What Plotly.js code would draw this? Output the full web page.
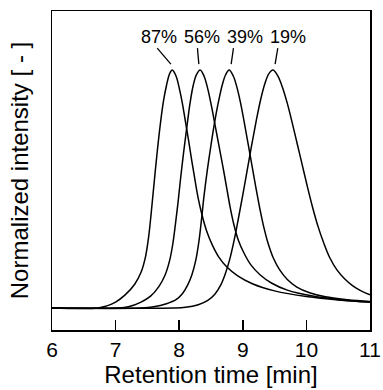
<!DOCTYPE html>
<html>
<head>
<meta charset="utf-8">
<script src="https://cdn.plot.ly/plotly-3.0.1.min.js"></script>
<style>html,body{margin:0;padding:0;background:#fff}#chart{width:383px;height:390px}</style>
</head>
<body>
<div id="chart"></div>
<script>
// Retention time [min] and normalized intensity for each sample
var time87 = [6.0, 6.72, 6.85, 7.00, 7.15, 7.30, 7.40, 7.47, 7.52, 7.56, 7.60, 7.65, 7.70, 7.75, 7.80, 7.85, 7.89,
              7.95, 8.00, 8.05, 8.10, 8.15, 8.20, 8.25, 8.30, 8.36, 8.43, 8.52, 8.62, 8.75, 8.92, 9.15, 9.50, 10.0, 10.5, 11.0];
var int87  = [0, 0, 0.008, 0.025, 0.055, 0.10, 0.15, 0.215, 0.30, 0.40, 0.51, 0.645, 0.765, 0.865, 0.935, 0.985, 1.0,
              0.975, 0.925, 0.86, 0.78, 0.70, 0.615, 0.535, 0.46, 0.39, 0.325, 0.265, 0.215, 0.172, 0.135, 0.102, 0.072, 0.048, 0.034, 0.026];

var time56 = [6.0, 7.0, 7.2, 7.40, 7.55, 7.68, 7.78, 7.85, 7.90, 7.94, 7.98, 8.02, 8.07, 8.12, 8.17, 8.22, 8.27, 8.33,
              8.39, 8.45, 8.51, 8.57, 8.63, 8.69, 8.75, 8.80, 8.86, 8.93, 9.02, 9.13, 9.27, 9.45, 9.70, 10.1, 10.55, 11.0];
var int56  = [0, 0, 0.005, 0.025, 0.05, 0.09, 0.14, 0.20, 0.27, 0.35, 0.44, 0.54, 0.655, 0.76, 0.86, 0.935, 0.98, 1.0,
              0.975, 0.92, 0.845, 0.76, 0.675, 0.59, 0.50, 0.425, 0.35, 0.285, 0.23, 0.18, 0.14, 0.105, 0.075, 0.05, 0.034, 0.024];

var time39 = [6.0, 7.40, 7.60, 7.80, 7.95, 8.05, 8.13, 8.20, 8.26, 8.31, 8.35, 8.39, 8.44, 8.50, 8.56, 8.62, 8.68, 8.73, 8.785,
              8.85, 8.91, 8.97, 9.03, 9.09, 9.15, 9.21, 9.27, 9.33, 9.40, 9.48, 9.58, 9.70, 9.85, 10.05, 10.3, 10.65, 11.0];
var int39  = [0, 0, 0.005, 0.018, 0.035, 0.06, 0.095, 0.14, 0.20, 0.28, 0.37, 0.47, 0.575, 0.685, 0.785, 0.87, 0.94, 0.98, 1.0,
              0.975, 0.925, 0.855, 0.77, 0.68, 0.59, 0.50, 0.415, 0.34, 0.27, 0.21, 0.16, 0.12, 0.088, 0.064, 0.047, 0.035, 0.027];

var time19 = [6.0, 7.90, 8.10, 8.30, 8.45, 8.56, 8.65, 8.72, 8.79, 8.86, 8.93, 9.00, 9.07, 9.14, 9.21, 9.28, 9.35, 9.41, 9.476,
              9.55, 9.62, 9.70, 9.78, 9.86, 9.94, 10.02, 10.10, 10.18, 10.27, 10.37, 10.48, 10.60, 10.73, 10.86, 11.0];
var int19  = [0, 0, 0.003, 0.014, 0.032, 0.058, 0.095, 0.14, 0.20, 0.28, 0.375, 0.475, 0.58, 0.685, 0.785, 0.875, 0.945, 0.985, 1.0,
              0.975, 0.93, 0.86, 0.775, 0.685, 0.595, 0.505, 0.42, 0.345, 0.275, 0.21, 0.16, 0.123, 0.093, 0.072, 0.056];

var peakLabels = ["87%", "56%", "39%", "19%"];
var xTicks = [6, 7, 8, 9, 10, 11];

var FONT = "Liberation Sans, Arial, Helvetica, sans-serif";
var series = [[time87, int87], [time56, int56], [time39, int39], [time19, int19]];
var traces = series.map(function (s) {
  return {
    x: s[0], y: s[1], type: "scatter", mode: "lines",
    line: {color: "#000", width: 1.5, shape: "spline", smoothing: 1},
    hoverinfo: "none", showlegend: false
  };
});

// label placement (text centre and leader line ends), in axis units
var labelX = [7.675, 8.356, 9.041, 9.704];
var labelY = 1.137;
var leadStart = [[7.654, 1.092], [8.287, 1.092], [8.853, 1.092], [9.55, 1.092]];
var leadEnd   = [[7.869, 1.025], [8.309, 1.025], [8.817, 1.025], [9.508, 1.025]];

var annotations = peakLabels.map(function (t, i) {
  return {x: labelX[i], y: labelY, xref: "x", yref: "y", text: t, showarrow: false,
          font: {family: FONT, size: 18, color: "#000"}, xanchor: "center", yanchor: "middle"};
});
var shapes = leadStart.map(function (p, i) {
  return {type: "line", xref: "x", yref: "y", x0: p[0], y0: p[1], x1: leadEnd[i][0], y1: leadEnd[i][1],
          line: {color: "#000", width: 1.3}};
});

var layout = {
  width: 383, height: 390,
  margin: {l: 52, r: 13, t: 11, b: 60},
  paper_bgcolor: "#fff", plot_bgcolor: "#fff",
  font: {family: FONT, color: "#000"},
  showlegend: false,
  xaxis: {
    range: [6, 11], tickvals: xTicks, ticktext: xTicks.map(String),
    ticks: "inside", ticklen: 10, tickwidth: 1.5, tickcolor: "#000",
    showline: true, linecolor: "#000", linewidth: 1.5, mirror: true,
    showgrid: false, zeroline: false,
    tickfont: {family: FONT, size: 21, color: "#000"},
    title: {text: "Retention time [min]", font: {family: FONT, size: 24, color: "#000"}, standoff: 6}
  },
  yaxis: {
    range: [-0.0924, 1.248], tickvals: [0], showticklabels: false,
    ticks: "inside", ticklen: 9, tickwidth: 1.5, tickcolor: "#000",
    showline: true, linecolor: "#000", linewidth: 1.5, mirror: true,
    showgrid: false, zeroline: false,
    title: {text: "Normalized intensity [ - ]", font: {family: FONT, size: 24, color: "#000"}, standoff: 15}
  },
  annotations: annotations,
  shapes: shapes
};

Plotly.newPlot("chart", traces, layout, {staticPlot: true, displayModeBar: false});
</script>
</body>
</html>
